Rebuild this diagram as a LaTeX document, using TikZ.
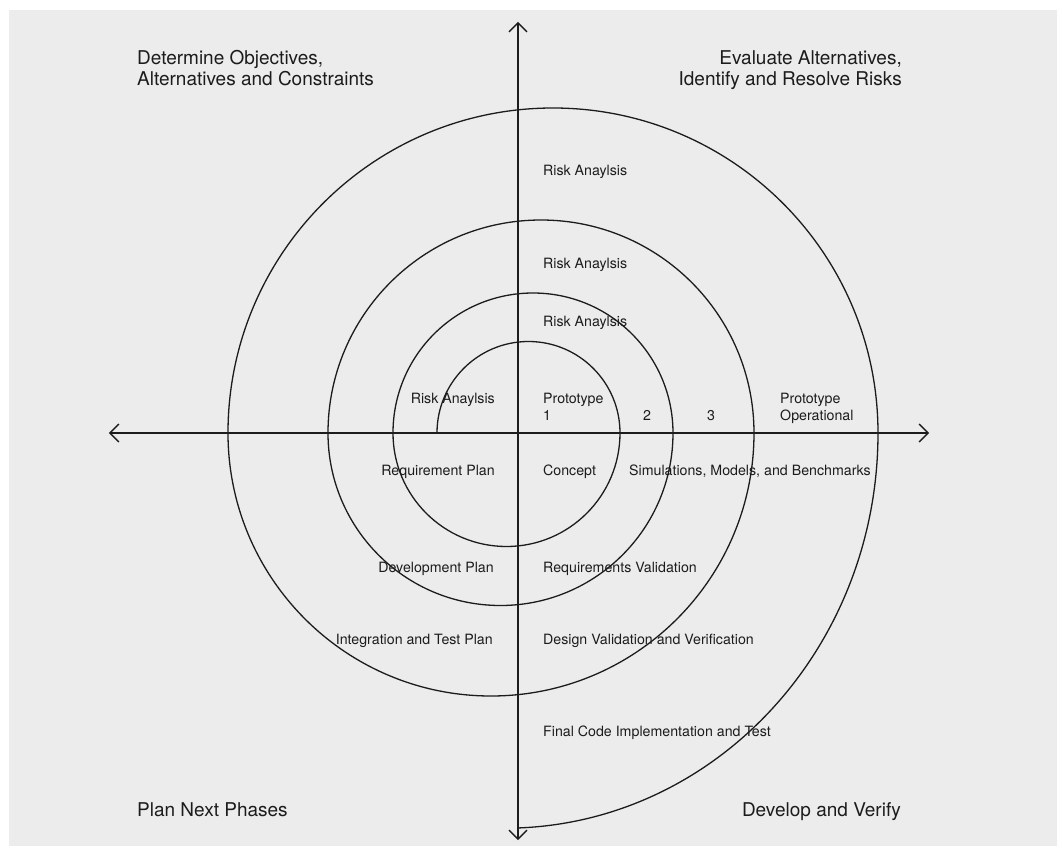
\documentclass[tikz,border=0pt]{standalone}
\usepackage{fontspec}
\setmainfont{TeX Gyre Heros}
\usetikzlibrary{arrows.meta}
\definecolor{pagebg}{RGB}{255,255,255}
\definecolor{panelbg}{RGB}{236,236,236}
\definecolor{ink}{RGB}{28,28,28}
\tikzset{
  axis/.style={draw=ink, line width=1.3pt, {Straight Barb[length=9pt,width=18pt]}-{Straight Barb[length=9pt,width=18pt]}},
  spiral/.style={draw=ink, line width=1.3pt},
  title/.style={inner sep=0pt, text=ink, font=\fontsize{19}{21.5}\selectfont},
  lbl/.style={inner sep=0pt, text=ink, font=\fontsize{14.2}{17}\selectfont},
}
\begin{document}
\begin{tikzpicture}[x=1pt,y=1pt]
  % page and panel
  \fill[pagebg] (-518,-414) rectangle (544,433);
  \fill[panelbg] (-509,-413) rectangle (539,423);
  \useasboundingbox (-518,-414) rectangle (544,433);

  % axes
  \coordinate (west) at (-409,0);
  \coordinate (east) at (411,0);
  \coordinate (north) at (0,411);
  \coordinate (south) at (0,-407);
  \draw[axis] (west) -- (east);
  \draw[axis] (south) -- (north);

  % spiral made of half circles, ending on the vertical axis
  \coordinate (s0) at (-81,0);
  \coordinate (sEnd) at (0,-395);
  \draw[spiral] (s0)
    arc[start angle=180, end angle=0,   radius=91.5]
    arc[start angle=0,   end angle=-180, radius=113.5]
    arc[start angle=180, end angle=0,   radius=140]
    arc[start angle=0,   end angle=-180, radius=172.5]
    arc[start angle=180, end angle=0,   radius=213]
    arc[start angle=0,   end angle=-180, radius=263]
    arc[start angle=180, end angle=0,   radius=325]
    arc[start angle=0,   end angle=-88,  x radius=373, y radius=395.2]
    -- (sEnd);

  % quadrant titles
  \node[title, anchor=north west, align=left] (tl) at (-381,383)
    {Determine Objectives,\\Alternatives and Constraints};
  \node[title, anchor=north east, align=right] (tr) at (384,383)
    {Evaluate Alternatives,\\Identify and Resolve Risks};
  \node[title, anchor=base west] (bl) at (-381,-383) {Plan Next Phases};
  \node[title, anchor=base east] (br) at (383,-383) {Develop and Verify};

  % labels along the spiral
  \node[lbl, anchor=base west] (ra1) at (25,258) {Risk Anaylsis};
  \node[lbl, anchor=base west] (ra2) at (25,165) {Risk Anaylsis};
  \node[lbl, anchor=base west] (ra3) at (25,107) {Risk Anaylsis};
  \node[lbl, anchor=base east] (ra4) at (-23,30) {Risk Anaylsis};
  \node[lbl, anchor=north west, align=left] (p1) at (25,40.2) {Prototype\\1};
  \node[lbl, anchor=base west] (p2) at (125,13) {2};
  \node[lbl, anchor=base west] (p3) at (189,13) {3};
  \node[lbl, anchor=north west, align=left] (pop) at (262,40.2) {Prototype\\Operational};
  \node[lbl, anchor=base east] (rp) at (-23,-42) {Requirement Plan};
  \node[lbl, anchor=base west] (cc) at (25,-42) {Concept};
  \node[lbl, anchor=base west] (smb) at (111,-42) {Simulations, Models, and Benchmarks};
  \node[lbl, anchor=base east] (dp) at (-24,-139) {Development Plan};
  \node[lbl, anchor=base west] (rv) at (25,-139) {Requirements Validation};
  \node[lbl, anchor=base east] (itp) at (-25,-211) {Integration and Test Plan};
  \node[lbl, anchor=base west] (dvv) at (25,-211) {Design Validation and Verification};
  \node[lbl, anchor=base west] (fci) at (25,-303) {Final Code Implementation and Test};
\end{tikzpicture}
\end{document}
